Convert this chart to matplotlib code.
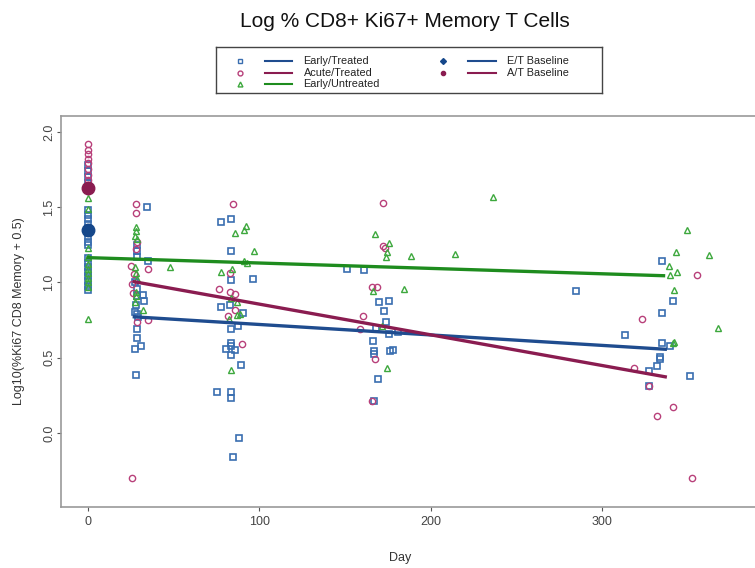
import matplotlib
matplotlib.use('Agg')
import matplotlib.pyplot as plt

plt.rcParams['font.family'] = ['Liberation Sans', 'DejaVu Sans']

# Early/Treated (squares)
et_day = [0] * 21 + [34.4, 28.5, 28.5, 28.5, 34.8, 27.5, 28.5, 32, 28.5, 32.5, 27.8, 27.5, 28.5, 29,
                     28.5, 28.5, 27.5, 31, 28,
                     77.5, 83.7, 83.7, 83.7, 96.5, 77.7, 83, 90.7, 87.5, 83.5, 83.7, 83.7, 80.6, 85.6, 83.7,
                     89.5, 75.5, 83.7, 83.7, 88.3, 84.5,
                     151.4, 161.1, 170, 175.5, 172.8, 174, 168.1, 180.7, 175.5, 166.2, 166.7, 166.7, 176.4,
                     178.2, 169.3, 167,
                     284.7,
                     334.9, 341.5, 335.3, 313.5, 335, 340, 333.7, 334, 332.3, 327.7, 351.4, 327.7]
et_val = [1.78, 1.74, 1.70, 1.66, 1.48, 1.45, 1.42, 1.39, 1.36, 1.33, 1.30, 1.27, 1.25, 1.16, 1.13, 1.10,
          1.07, 1.04, 1.01, 0.98, 0.95,
          1.50, 1.25, 1.21, 1.17, 1.14, 1.00, 0.96, 0.92, 0.91, 0.88, 0.85, 0.805, 0.79, 0.77,
          0.69, 0.633, 0.556, 0.58, 0.387,
          1.40, 1.42, 1.21, 1.015, 1.02, 0.84, 0.85, 0.80, 0.71, 0.69, 0.60, 0.58, 0.56, 0.55, 0.52,
          0.45, 0.27, 0.27, 0.235, -0.03, -0.16,
          1.087, 1.08, 0.87, 0.88, 0.81, 0.74, 0.70, 0.67, 0.66, 0.61, 0.545, 0.525, 0.545,
          0.555, 0.36, 0.215,
          0.945,
          1.145, 0.875, 0.795, 0.65, 0.60, 0.58, 0.507, 0.495, 0.445, 0.41, 0.38, 0.31]

# Acute/Treated (circles)
at_day = [0] * 9 + [27.8, 27.8, 28.5, 28, 25.1, 35.2, 27, 25.6, 26, 35.2, 28.5, 25.7,
                    84.5, 82.9, 76.7, 83, 85.5, 85.6, 81.6, 90,
                    172, 172, 173.5, 165.8, 168.5, 160.4, 158.7, 167.7, 166,
                    355.5, 323.6, 318.7, 327.7, 341.7, 332.3, 352.4]
at_val = [1.92, 1.88, 1.85, 1.82, 1.79, 1.75, 1.715, 1.68, 1.65,
          1.52, 1.46, 1.27, 1.22, 1.107, 1.09, 1.055, 0.987, 0.93, 0.75, 0.735, -0.30,
          1.52, 1.06, 0.96, 0.94, 0.925, 0.82, 0.78, 0.59,
          1.53, 1.245, 1.23, 0.967, 0.97, 0.78, 0.69, 0.49, 0.215,
          1.05, 0.755, 0.43, 0.31, 0.175, 0.117, -0.30]

# Early/Untreated (triangles)
eu_day = [0] * 11 + [28, 28, 27.5, 28.5, 27.5, 28, 28.5, 28, 28, 27.5, 32.1, 47.9,
                     85.6, 91, 92.2, 96.9, 77.8, 84.1, 91, 93, 83.3, 86.8, 82, 86.8, 89, 83.7,
                     167.4, 175.5, 174.5, 174, 188.4, 166.4, 184.5, 171.7, 174.7,
                     214, 236.4,
                     349.7, 343, 362.5, 339.2, 343.8, 340, 341.9, 367.6, 342, 341.3]
eu_val = [1.56, 1.49, 1.226, 1.17, 1.12, 1.09, 1.06, 1.03, 1.00, 0.97, 0.755,
          1.37, 1.34, 1.31, 1.29, 1.10, 1.06, 1.02, 0.94, 0.91, 0.87, 0.815, 1.10,
          1.33, 1.35, 1.375, 1.21, 1.07, 1.09, 1.14, 1.13, 0.90, 0.87, 0.76, 0.785, 0.79, 0.42,
          1.32, 1.26, 1.205, 1.17, 1.175, 0.945, 0.955, 0.71, 0.435,
          1.19, 1.57,
          1.35, 1.20, 1.18, 1.11, 1.07, 1.05, 0.95, 0.70, 0.605, 0.60]

# fitted lines
et_fit_day = [27, 337]
et_fit_val = [0.772, 0.557]
at_fit_day = [27, 337]
at_fit_val = [1.005, 0.374]
eu_fit_day = [0, 336]
eu_fit_val = [1.165, 1.045]

# baselines
et_base = (0, 1.35)
at_base = (0, 1.625)

C_ET = '#3A6EB0'
C_ET_LINE = '#1F4C8F'
C_AT = '#B8407A'
C_AT_LINE = '#8A1C50'
C_EU = '#3DA83D'
C_EU_LINE = '#1E8C1E'

fig = plt.figure(figsize=(7.55, 5.68), dpi=100)
ax = fig.add_axes([61 / 755, 1 - 507 / 568, 1 - 61 / 755, (507 - 116) / 568])

ax.plot(et_day, et_val, 's', ms=4.5, mfc='none', mec=C_ET, mew=1.2, zorder=3)
ax.plot(at_day, at_val, 'o', ms=4.5, mfc='none', mec=C_AT, mew=1.0, zorder=3)
ax.plot(eu_day, eu_val, '^', ms=4.5, mfc='none', mec=C_EU, mew=1.0, zorder=3)

ax.plot(eu_fit_day, eu_fit_val, color=C_EU_LINE, linewidth=2.4, zorder=4)
ax.plot(et_fit_day, et_fit_val, color=C_ET_LINE, linewidth=2.4, zorder=4)
ax.plot(at_fit_day, at_fit_val, color=C_AT_LINE, linewidth=2.4, zorder=4)

ax.plot(*et_base, 'o', ms=9, color='#15478A', zorder=5)
ax.plot(*at_base, 'o', ms=9, color='#8A1C50', zorder=5)

ax.set_xlim(-15.8, 389.4)
ax.set_ylim(-0.49, 2.105)
ax.set_xticks([0, 100, 200, 300])
ax.set_yticks([0.0, 0.5, 1.0, 1.5, 2.0])
ax.set_yticklabels(['0.0', '0.5', '1.0', '1.5', '2.0'], rotation=90, va='center')
ax.tick_params(colors='#555555', labelcolor='#444444', labelsize=9, length=3, width=0.8)
ax.tick_params(axis='y', pad=1)

for side in ['left', 'bottom', 'top']:
    ax.spines[side].set_color('#999999')
    ax.spines[side].set_linewidth(1.2)
ax.spines['right'].set_visible(False)

ax.set_xlabel('Day', fontsize=9, color='#333333')
ax.set_ylabel('Log10(%Ki67 CD8 Memory + 0.5)', fontsize=9, color='#333333')
ax.xaxis.set_label_coords(0.488, -0.115)
ax.yaxis.set_label_coords(-0.052, 0.5)

fig.text(0.536, 0.963, 'Log % CD8+ Ki67+ Memory T Cells', fontsize=15, ha='center', va='center',
         color='#111111')

# legend box
lg = fig.add_axes([216 / 755, 1 - 93.3 / 568, (601.7 - 216) / 755, 46.6 / 568])
lg.set_xlim(0, 1)
lg.set_ylim(0, 1)
lg.set_xticks([])
lg.set_yticks([])
for s in lg.spines.values():
    s.set_color('#444444')
    s.set_linewidth(1.0)

rows = [0.70, 0.44, 0.2]
left_items = [('s', C_ET, C_ET_LINE, 'Early/Treated'),
              ('o', C_AT, C_AT_LINE, 'Acute/Treated'),
              ('^', C_EU, C_EU_LINE, 'Early/Untreated')]
right_items = [('D', '#15478A', C_ET_LINE, 'E/T Baseline'),
               ('o', '#8A1C50', C_AT_LINE, 'A/T Baseline')]

for (mk, mc, lc, lab), ry in zip(left_items, rows):
    lg.plot([0.062], [ry], mk, ms=3.5, mfc='none', mec=mc, mew=1.0)
    lg.plot([0.128, 0.196], [ry, ry], color=lc, linewidth=1.5)
    lg.text(0.227, ry, lab, fontsize=7.8, va='center', color='#222222')

for (mk, mc, lc, lab), ry in zip(right_items, rows):
    lg.plot([0.589], [ry], mk, ms=3.0, color=mc)
    lg.plot([0.654, 0.725], [ry, ry], color=lc, linewidth=1.5)
    lg.text(0.755, ry, lab, fontsize=7.8, va='center', color='#222222')

fig.savefig('out.png', dpi=100)
